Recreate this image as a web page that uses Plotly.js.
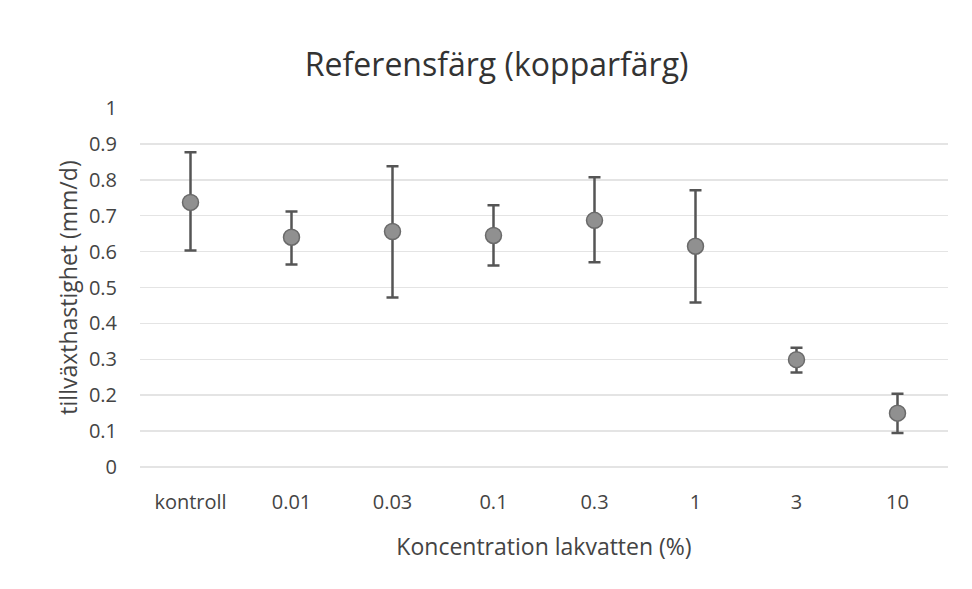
<!DOCTYPE html>
<html>
<head>
<meta charset="utf-8">
<script src="https://cdn.plot.ly/plotly-3.0.1.min.js"></script>
<style>html,body{margin:0;padding:0;background:#fff;}#chart{width:972px;height:589px;}</style>
</head>
<body>
<div id="chart"></div>
<script>
const categories = ["kontroll", "0.01", "0.03", "0.1", "0.3", "1", "3", "10"];
const growthRate = [0.737, 0.640, 0.656, 0.645, 0.687, 0.615, 0.299, 0.150];
const errUpper = [0.140, 0.072, 0.182, 0.084, 0.120, 0.156, 0.033, 0.054];
const errLower = [0.134, 0.076, 0.184, 0.084, 0.117, 0.157, 0.036, 0.055];
const yTicks = [0, 0.1, 0.2, 0.3, 0.4, 0.5, 0.6, 0.7, 0.8, 0.9, 1];
const yTickText = ["0", "0.1", "0.2", "0.3", "0.4", "0.5", "0.6", "0.7", "0.8", "0.9", "1"];

const fontFam = "Open Sans, Noto Sans, sans-serif";

const trace = {
  type: "scatter",
  mode: "markers",
  x: categories,
  y: growthRate,
  marker: {size: 16, color: "#909090", line: {color: "#6a6a6a", width: 1.5}},
  error_y: {
    type: "data", symmetric: false,
    array: errUpper, arrayminus: errLower,
    color: "#555", thickness: 2.5, width: 6
  },
  showlegend: false,
  hoverinfo: "x+y"
};

const layout = {
  width: 972, height: 589,
  margin: {l: 140, r: 24, t: 108, b: 122},
  paper_bgcolor: "#fff", plot_bgcolor: "#fff",
  title: {text: "Referensfärg (kopparfärg)", x: 0.511, xanchor: "center", y: 0.89, yanchor: "middle",
          font: {family: fontFam, size: 32, color: "#333"}},
  xaxis: {
    type: "category",
    range: [-0.5, 7.5],
    showgrid: false, zeroline: false, showline: false,
    ticks: "", ticklabelstandoff: 21,
    tickfont: {family: fontFam, size: 20, color: "#444"},
    title: {text: "Koncentration lakvatten (%)", standoff: 24, font: {family: fontFam, size: 23, color: "#444"}}
  },
  yaxis: {
    range: [0, 1],
    tickvals: yTicks, ticktext: yTickText,
    showgrid: true, gridcolor: "#e4e4e4", gridwidth: 1.5,
    zeroline: true, zerolinecolor: "#e4e4e4", zerolinewidth: 1.5,
    showline: false, ticks: "", ticklabelstandoff: 22,
    tickfont: {family: fontFam, size: 20, color: "#444"},
    title: {text: "tillväxthastighet (mm/d)", standoff: 4, font: {family: fontFam, size: 23, color: "#444"}}
  }
};

Plotly.newPlot("chart", [trace], layout, {displayModeBar: false, staticPlot: true});
</script>
</body>
</html>
